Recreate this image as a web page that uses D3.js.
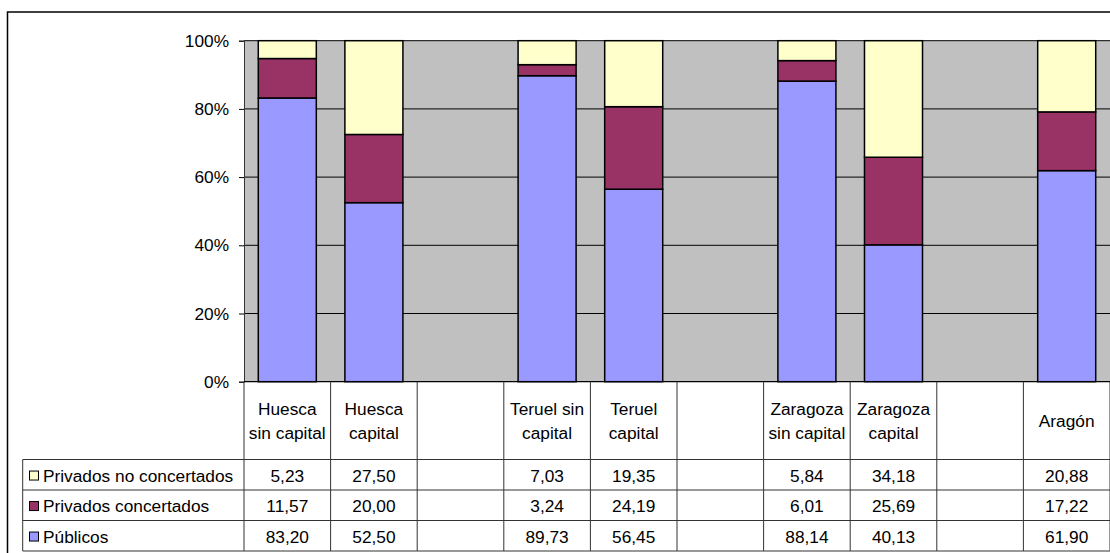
<!DOCTYPE html>
<html>
<head>
<meta charset="utf-8">
<script src="https://cdn.jsdelivr.net/npm/d3@7/dist/d3.min.js"></script>
<style>
  body { margin: 0; background: #fff; }
  svg { display: block; font-family: Arial, 'Liberation Sans', sans-serif; }
</style>
</head>
<body>
<svg id="chart" width="1110" height="553"></svg>
<script>
// category labels, one entry per column (empty columns are spacers)
const categories = [
  ['Huesca', 'sin capital'], ['Huesca', 'capital'], [],
  ['Teruel sin', 'capital'], ['Teruel', 'capital'], [],
  ['Zaragoza', 'sin capital'], ['Zaragoza', 'capital'], [],
  ['Aragón']
]
const publicos = [83.20, 52.50, null, 89.73, 56.45, null, 88.14, 40.13, null, 61.90]
const concertados = [11.57, 20.00, null, 3.24, 24.19, null, 6.01, 25.69, null, 17.22]
const noConcertados = [5.23, 27.50, null, 7.03, 19.35, null, 5.84, 34.18, null, 20.88]
const seriesNames = ['Privados no concertados', 'Privados concertados', 'Públicos']
const yTicks = [0, 20, 40, 60, 80, 100]

const colors = {
  publicos: '#9999FF',
  concertados: '#993366',
  noConcertados: '#FFFFCC'
}

const margin = { left: 244, top: 40.7 },
  plotRight = 1110,
  plotBottom = 381.7,
  headerBottom = 459.5,
  tableBottom = 551,
  tableLeft = 22.7,
  fontSize = 17.3

const svg = d3.select('#chart')

// outer chart border (runs off the right and bottom edges like the original)
svg.append('rect')
  .attr('x', 7.5).attr('y', 12)
  .attr('width', 1200).attr('height', 600)
  .attr('fill', '#fff')
  .attr('stroke', '#000')
  .attr('stroke-width', 1.5)

const rows = categories.map((c, i) => ({
  i: i,
  publicos: publicos[i] || 0,
  concertados: concertados[i] || 0,
  noConcertados: noConcertados[i] || 0,
  empty: publicos[i] === null
}))

const xScale = d3.scaleBand()
  .domain(d3.range(categories.length))
  .range([margin.left, plotRight])
  .padding(0)

const yScale = d3.scaleLinear()
  .domain([0, 1])
  .range([plotBottom, margin.top])

// plot background
svg.append('rect')
  .attr('x', margin.left).attr('y', margin.top)
  .attr('width', plotRight - margin.left)
  .attr('height', plotBottom - margin.top)
  .attr('fill', '#C0C0C0')

// gridlines
svg.append('g')
  .selectAll('line')
  .data(yTicks.filter(d => d > 0))
  .enter()
  .append('line')
  .attr('x1', margin.left).attr('x2', plotRight)
  .attr('y1', d => yScale(d / 100)).attr('y2', d => yScale(d / 100))
  .attr('stroke', '#000')
  .attr('stroke-width', 1)

const stack = d3.stack()
  .keys(['publicos', 'concertados', 'noConcertados'])
  .offset(d3.stackOffsetExpand)

const stacked = stack(rows.filter(r => !r.empty))

const barW = xScale.bandwidth() * 0.67

svg.append('g')
  .selectAll('g')
  .data(stacked)
  .enter()
  .append('g')
  .attr('fill', d => colors[d.key])
  .selectAll('rect')
  .data(d => d)
  .enter()
  .append('rect')
  .attr('x', d => xScale(d.data.i) + (xScale.bandwidth() - barW) / 2)
  .attr('y', d => yScale(d[1]))
  .attr('width', barW)
  .attr('height', d => yScale(d[0]) - yScale(d[1]))
  .attr('stroke', '#000')
  .attr('stroke-width', 1.5)

// y axis
const yAxis = d3.axisLeft(yScale)
  .tickValues(yTicks.map(d => d / 100))
  .tickFormat(d => Math.round(d * 100) + '%')
  .tickSize(5)
  .tickPadding(10)

const yG = svg.append('g')
  .attr('transform', `translate(${margin.left},0)`)
  .call(yAxis)
yG.select('.domain').attr('stroke', '#333')
yG.selectAll('.tick line').attr('stroke', '#000')
yG.selectAll('.tick text')
  .attr('font-size', fontSize)
  .attr('fill', '#000')
  .attr('font-family', 'Arial, Liberation Sans, sans-serif')

// x axis baseline
svg.append('line')
  .attr('x1', margin.left).attr('x2', plotRight)
  .attr('y1', plotBottom).attr('y2', plotBottom)
  .attr('stroke', '#000').attr('stroke-width', 1.2)

// data table
const rowScale = d3.scaleBand()
  .domain(d3.range(3))
  .range([headerBottom, tableBottom])

const table = svg.append('g').attr('stroke', '#333').attr('stroke-width', 1)

// vertical column lines
table.selectAll('.vcol')
  .data(d3.range(categories.length + 1))
  .enter()
  .append('line')
  .attr('x1', d => d < categories.length ? xScale(d) : plotRight)
  .attr('x2', d => d < categories.length ? xScale(d) : plotRight)
  .attr('y1', plotBottom).attr('y2', tableBottom)

table.append('line')
  .attr('x1', tableLeft).attr('x2', tableLeft)
  .attr('y1', headerBottom).attr('y2', tableBottom)

// horizontal row lines
table.selectAll('.hrow')
  .data([headerBottom, rowScale(1), rowScale(2), tableBottom])
  .enter()
  .append('line')
  .attr('x1', tableLeft).attr('x2', plotRight)
  .attr('y1', d => d).attr('y2', d => d)

// category header labels
const headerMid = (plotBottom + headerBottom) / 2
const lineH = 23.7
svg.append('g')
  .selectAll('text')
  .data(categories)
  .enter()
  .append('text')
  .attr('x', (d, i) => xScale(i) + xScale.bandwidth() / 2)
  .attr('y', d => headerMid - (d.length - 1) * lineH / 2)
  .attr('text-anchor', 'middle')
  .attr('font-size', fontSize)
  .attr('fill', '#000')
  .selectAll('tspan')
  .data(d => d)
  .enter()
  .append('tspan')
  .attr('x', function () { return d3.select(this.parentNode).attr('x') })
  .attr('dy', (d, j) => j === 0 ? '0.35em' : lineH)
  .text(d => d)

// table rows: legend keys, names and values
const tableSeries = [
  { name: seriesNames[0], color: colors.noConcertados, values: noConcertados },
  { name: seriesNames[1], color: colors.concertados, values: concertados },
  { name: seriesNames[2], color: colors.publicos, values: publicos }
]
const fmt = v => d3.format('.2f')(v).replace('.', ',')

tableSeries.forEach((s, r) => {
  const cy = rowScale(r) + rowScale.bandwidth() / 2 + 0.8
  svg.append('rect')
    .attr('x', 29.5).attr('y', cy - 4.5)
    .attr('width', 9).attr('height', 9)
    .attr('fill', s.color)
    .attr('stroke', '#000').attr('stroke-width', 1)
  svg.append('text')
    .attr('x', 43).attr('y', cy)
    .attr('dy', '0.35em')
    .attr('font-size', fontSize)
    .attr('fill', '#000')
    .text(s.name)
  const cells = s.values
    .map((v, i) => ({ v: v, i: i }))
    .filter(d => d.v !== null)
  svg.append('g')
    .selectAll('text')
    .data(cells)
    .enter()
    .append('text')
    .attr('x', d => xScale(d.i) + xScale.bandwidth() / 2)
    .attr('y', cy)
    .attr('dy', '0.35em')
    .attr('text-anchor', 'middle')
    .attr('font-size', fontSize)
    .attr('fill', '#000')
    .text(d => fmt(d.v))
})
</script>
</body>
</html>
